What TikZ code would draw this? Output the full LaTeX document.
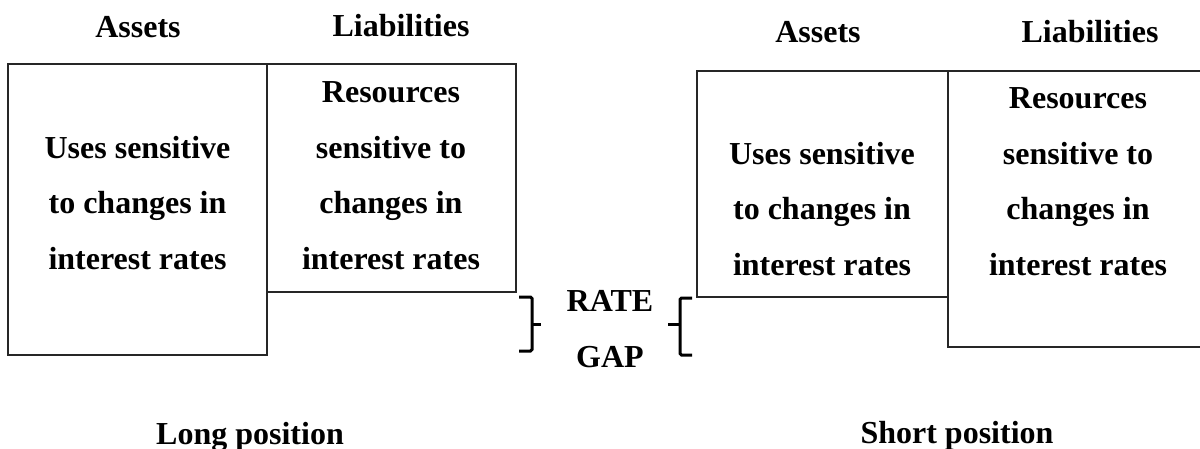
\documentclass[tikz,border=0pt]{standalone}
\usepackage{fontspec}
\setmainfont{Liberation Serif}
\begin{document}
\begin{tikzpicture}[x=1pt,y=-1pt,
  box/.style={draw=black!85, line width=1.2pt},
  lbl/.style={font=\fontsize{32}{55.5}\selectfont\bfseries, anchor=base, inner sep=0pt, align=center},
  bracket/.style={line width=3pt, rounded corners=1.5pt}]
\useasboundingbox (0,0) rectangle (1200,448);
\clip (0,0) rectangle (1200,448);
% long position boxes
\draw[box] (8,64) rectangle (267,355);
\draw[box] (267,64) rectangle (516,292);
% short position boxes
\draw[box] (697,71) rectangle (948,297);
\draw[box] (948,71) rectangle (1210,347);
% headers
\node[lbl] (hA1) at (138,37) {Assets};
\node[lbl] (hL1) at (401,36) {Liabilities};
\node[lbl] (hA2) at (818,42) {Assets};
\node[lbl] (hL2) at (1090,42) {Liabilities};
% box texts (anchored at the baseline of the last line)
\node[lbl] (tA1) at (137.5,269) {Uses sensitive\\to changes in\\interest rates};
\node[lbl] (tL1) at (391,269) {Resources\\sensitive to\\changes in\\interest rates};
\node[lbl] (tA2) at (822,275) {Uses sensitive\\to changes in\\interest rates};
\node[lbl] (tL2) at (1078,275) {Resources\\sensitive to\\changes in\\interest rates};
% gap
\node[lbl] (gap) at (610,367) {RATE\\GAP};
\draw[bracket] (519,297) -- (532,297) -- (532,351) -- (519,351);
\draw[bracket] (532,324) -- (541,324);
\draw[bracket] (692,298) -- (680,298) -- (680,355) -- (692,355);
\draw[bracket] (680,324) -- (668,324);
% captions
\node[lbl] (long) at (250,444) {Long position};
\node[lbl] (short) at (957,443) {Short position};
\end{tikzpicture}
\end{document}
